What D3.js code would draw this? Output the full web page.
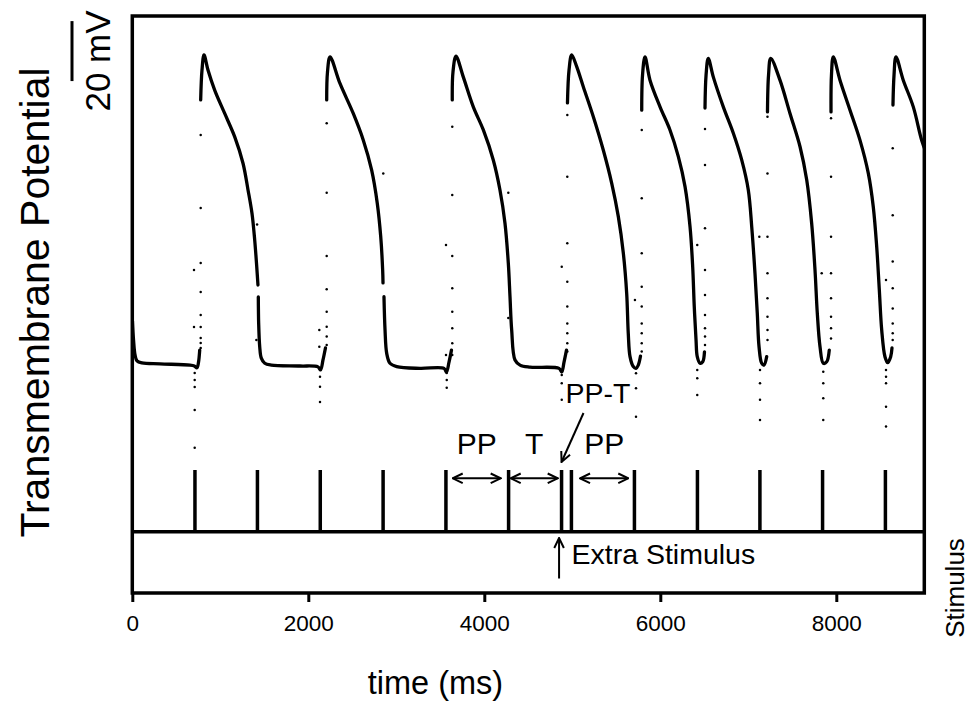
<!DOCTYPE html>
<html>
<head>
<meta charset="utf-8">
<script src="https://cdn.jsdelivr.net/npm/d3@7"></script>
<style>
  html, body { margin: 0; padding: 0; background: #fff; }
  svg { display: block; }
  text { font-family: "Liberation Sans", Arial, Helvetica, sans-serif; fill: #000; }
</style>
</head>
<body>
<svg id="chart" width="970" height="706"></svg>
<script>
// ---- data -------------------------------------------------------------
const timeTicks = [0, 2000, 4000, 6000, 8000];

// pacing stimuli (ms); one premature extra stimulus between two regular ones
const stimTimes = [712, 1422, 2136, 2850, 3564, 4276, 4878, 4990, 5706, 6422, 7132, 7844, 8558];
const extraStimTime = 4878;

// membrane potential trace, [time ms, mV]; null = break in the recorded line
const traceSegments = [
  [[2, -70], [14, -76.3], [31, -81.3], [53, -83.3], [110, -84], [315, -84.3], [656, -84.7],
   [705, -85], [735, -85.6], [752, -83.8], [766, -79.7]],
  [[777, 3.7], [792, 13.7], [815, 18.7], [860, 13.7], [936, 7], [1050, -0.8], [1164, -8.6],
   [1258, -17.4], [1315, -26.3], [1360, -34.1], [1391, -43], [1414, -51.9], [1428, -58], null,
   [1432, -62], [1436, -70.8], [1448, -78.6], [1466, -82.4], [1505, -84.1], [1580, -84.7],
   [1906, -85], [2110, -85.3], [2139, -86.3], [2167, -83], [2195, -79]],
  [[2209, 3.7], [2218, 13], [2247, 18.1], [2360, 9.2], [2511, -0.8], [2625, -9.7], [2720, -19.7],
   [2784, -30.8], [2823, -41.9], [2845, -53], [2849, -57.3], null,
   [2860, -61.9], [2872, -73], [2891, -80.8], [2928, -84.1], [3005, -85.2], [3269, -85.8],
   [3542, -85.8], [3570, -87], [3599, -83.7], [3627, -79.7]],
  [[3636, 3.7], [3644, 13], [3678, 18.3], [3761, 11.4], [3875, 1.4], [3989, -6.3], [4102, -16.3],
   [4178, -26.3], [4235, -37.4], [4273, -50.8], [4292, -61.9], [4311, -73], [4349, -83],
   [4406, -84.7], [4519, -85.4], [4849, -85.8], [4880, -87], [4906, -83.7], [4934, -79.7]],
  [[4945, 2.7], [4963, 13.7], [4993, 18.7], [5050, 14.8], [5125, 8.1], [5239, -1.9], [5352, -13],
   [5448, -24.1], [5523, -35.2], [5580, -47.4], [5618, -60.8], [5636, -74.1], [5656, -81.9],
   [5693, -85.2], [5724, -85.8], [5750, -84.7], [5775, -81.7]],
  [[5789, 0.3], [5798, 12], [5826, 18.1], [5883, 10.3], [5997, 1.4], [6110, -6.3], [6205, -15.2],
   [6281, -25.2], [6338, -38.6], [6368, -51.9], [6386, -65.2], [6406, -76.3], [6420, -81.9],
   [6451, -84.1], [6482, -83.6], [6502, -80.3]],
  [[6508, 1], [6520, 12], [6545, 17.6], [6602, 11.4], [6716, 1.4], [6830, -7.4], [6925, -16.3],
   [7000, -26.3], [7039, -38.6], [7076, -54.1], [7102, -67.4], [7122, -78.6], [7152, -84.1],
   [7178, -84.7], [7209, -81.9]],
  [[7218, -0.3], [7230, 12], [7255, 17.6], [7360, 10.3], [7474, -0.8], [7588, -11.9], [7664, -23],
   [7720, -37.4], [7758, -53], [7784, -67.4], [7815, -78.6], [7852, -84.1], [7891, -83.6],
   [7920, -79.7]],
  [[7940, -0.3], [7945, 12], [7966, 18.1], [8042, 10.3], [8156, 0.3], [8269, -9.7], [8364, -20.8],
   [8420, -31.9], [8459, -45.2], [8489, -59.7], [8516, -73], [8553, -81.9], [8584, -83.9],
   [8618, -81.9], [8633, -79]],
  [[8644, 2], [8656, 12], [8678, 18.1], [8761, 10.3], [8875, 1.4], [8970, -9.7], [9019, -13.7]]
];

// sparse samples caught on the fast upstrokes, [time ms, mV]
const upstrokeDots = [
  [777, -8], [777, -32.3], [777, -50.7], [777, -60.3], [777, -68], [777, -72], [777, -75.7], [777, -77.3], [777, -79],
  [2209, -4.1], [2209, -27.2], [2209, -48.3], [2209, -59.4], [2209, -66.9], [2209, -71.9], [2209, -75.2], [2209, -78],
  [3636, -5.2], [3636, -28], [3636, -48.3], [3636, -59.1], [3636, -66.9], [3636, -72.4], [3636, -77.4], [3636, -81.3],
  [4943, -1.3], [4943, -21.9], [4943, -44.1], [4943, -56.9], [4943, -65.2], [4943, -70.8], [4943, -74.1], [4943, -77.4], [4943, -80.2],
  [5789, -6.3], [5789, -29.1], [5789, -47.4], [5789, -58.6], [5789, -65.2], [5789, -70.8], [5789, -74.1], [5789, -77.4], [5789, -80.2],
  [6508, -6], [6508, -18], [6508, -39.1], [6508, -53], [6508, -61.3], [6508, -68], [6508, -72.4], [6508, -75.2], [6508, -78],
  [7218, -1.9], [7218, -20.8], [7218, -41.9], [7218, -54.1], [7218, -62.4], [7218, -68.6], [7218, -73], [7218, -76.3],
  [7940, -2.4], [7940, -21.9], [7940, -41.9], [7940, -54.1], [7940, -62.4], [7940, -68.6], [7940, -72.4], [7940, -75.8],
  [8641, -12.4], [8641, -34.7], [8641, -50.2], [8641, -59.1], [8641, -65.8], [8641, -70.8], [8641, -74.1], [8641, -76.3]
];

// stimulus artefact samples, [time ms, mV]
const artifactDots = [
  [709, -87.3], [709, -89.7], [709, -92], [709, -99.7], [709, -112.3], [701, -53], [701, -72],
  [1418, -37.8], [1410, -76.3],
  [2133, -88.6], [2133, -91.9], [2133, -97], [2125, -73], [2125, -78.6], [2852, -20.8],
  [3573, -87.3], [3573, -89.7], [3573, -92.3], [3565, -44.7], [3565, -81.3], [4273, -27.2], [4273, -69],
  [4880, -88], [4880, -90.8], [4880, -96.3], [4880, -51.9],
  [5724, -87.4], [5724, -92.4], [5724, -101.9], [5712, -63],
  [6420, -86.3], [6420, -89.1], [6420, -94.7], [6420, -44.7],
  [7133, -86.3], [7133, -90.8], [7133, -96.3], [7133, -103], [7125, -41.9],
  [7852, -86.9], [7852, -90.8], [7852, -95.8], [7852, -103], [7834, -54.1],
  [8565, -86.3], [8565, -88.6], [8565, -90.8], [8565, -98.6], [8565, -105.2], [8565, -56.3]
];

const scaleBarMv = [10, 30];               // 20 mV calibration bar
const intervalSpans = [[3641, 4186], [4300, 4834], [5088, 5636]];
const intervalLabels = ["PP", "T", "PP"];

// ---- layout -----------------------------------------------------------
const plot = { left: 132.3, right: 924.3, top: 16, bottom: 593 };
const svg = d3.select("#chart");
svg.append("rect").attr("width", 970).attr("height", 706).attr("fill", "#fff");

const x = d3.scaleLinear().domain([0, 9000]).range([plot.left, plot.right]);
const y = d3.scaleLinear().domain([-160.7, 31.7]).range([plot.bottom, plot.top]);
const ys = d3.scaleLinear().domain([0, 1]).range([531.7, 470]);

const defs = svg.append("defs");
defs.append("clipPath").attr("id", "plotClip")
  .append("rect")
  .attr("x", plot.left).attr("y", plot.top)
  .attr("width", plot.right - plot.left).attr("height", plot.bottom - plot.top);

defs.append("marker")
  .attr("id", "vhead")
  .attr("viewBox", "-1 -6 12 12")
  .attr("refX", 10).attr("refY", 0)
  .attr("markerUnits", "userSpaceOnUse")
  .attr("markerWidth", 12).attr("markerHeight", 12)
  .attr("orient", "auto-start-reverse")
  .append("path")
  .attr("d", "M0,-4.8L10,0L0,4.8")
  .attr("fill", "none").attr("stroke", "#000").attr("stroke-width", 2)
  .attr("stroke-linejoin", "miter");

const g = svg.append("g").attr("clip-path", "url(#plotClip)");

// membrane potential
const line = d3.line()
  .defined(d => d !== null)
  .x(d => x(d[0])).y(d => y(d[1]))
  .curve(d3.curveCatmullRom.alpha(0.5));

g.selectAll("path.trace")
  .data(traceSegments)
  .join("path")
  .attr("class", "trace")
  .attr("d", line)
  .attr("fill", "none")
  .attr("stroke", "#000")
  .attr("stroke-width", 3.3)
  .attr("stroke-linejoin", "round")
  .attr("stroke-linecap", "round");

g.selectAll("circle.dot")
  .data(upstrokeDots.concat(artifactDots))
  .join("circle")
  .attr("class", "dot")
  .attr("cx", d => x(d[0])).attr("cy", d => y(d[1]))
  .attr("r", 1.25).attr("fill", "#000");

// stimulus channel
const stimPath = [[0, 0]];
stimTimes.forEach(t => { stimPath.push([t, 0], [t, 1], [t, 0]); });
stimPath.push([9000, 0]);
g.append("path")
  .attr("d", d3.line().x(d => x(d[0])).y(d => ys(d[1]))(stimPath))
  .attr("fill", "none").attr("stroke", "#000").attr("stroke-width", 3.5)
  .attr("stroke-linejoin", "miter").attr("stroke-linecap", "round");

// frame
svg.append("rect")
  .attr("x", plot.left).attr("y", plot.top)
  .attr("width", plot.right - plot.left).attr("height", plot.bottom - plot.top)
  .attr("fill", "none").attr("stroke", "#000").attr("stroke-width", 3.5);

// time axis
const xAxis = svg.append("g")
  .attr("transform", `translate(0,${plot.bottom})`)
  .call(d3.axisBottom(x).tickValues(timeTicks).tickFormat(d3.format("d"))
    .tickSize(9).tickSizeOuter(0).tickPadding(13));
xAxis.select(".domain").remove();
xAxis.selectAll(".tick line").attr("stroke", "#000").attr("stroke-width", 3);
xAxis.selectAll(".tick text")
  .style("font-family", "'Liberation Sans', Arial, sans-serif")
  .style("font-size", "22.5px").attr("fill", "#000");

svg.append("text")
  .attr("x", 435.5).attr("y", 694)
  .attr("text-anchor", "middle")
  .style("font-size", "32.5px")
  .text("time (ms)");

svg.append("text")
  .attr("transform", "translate(49,302.5) rotate(-90)")
  .attr("text-anchor", "middle")
  .style("font-size", "41px")
  .text("Transmembrane Potential");

svg.append("text")
  .attr("transform", "translate(963.5,588) rotate(-90)")
  .attr("text-anchor", "middle")
  .style("font-size", "26px")
  .text("Stimulus");

// calibration bar
svg.append("line")
  .attr("x1", 72).attr("x2", 72)
  .attr("y1", y(scaleBarMv[0])).attr("y2", y(scaleBarMv[1]))
  .attr("stroke", "#000").attr("stroke-width", 3);
svg.append("text")
  .attr("transform", "translate(110,61) rotate(-90)")
  .attr("text-anchor", "middle")
  .style("font-size", "35px")
  .text(`${scaleBarMv[1] - scaleBarMv[0]} mV`);

// interval annotations
const arrowY = 478.3;
intervalSpans.forEach((s, i) => {
  svg.append("line")
    .attr("x1", x(s[0])).attr("x2", x(s[1]))
    .attr("y1", arrowY).attr("y2", arrowY)
    .attr("stroke", "#000").attr("stroke-width", 2)
    .attr("marker-start", "url(#vhead)").attr("marker-end", "url(#vhead)");
  svg.append("text")
    .attr("x", (x(s[0]) + x(s[1])) / 2).attr("y", 454)
    .attr("text-anchor", "middle")
    .style("font-size", "30px")
    .text(intervalLabels[i]);
});

// PP-T label pointing at the premature stimulus
svg.append("text")
  .attr("x", 598).attr("y", 403)
  .attr("text-anchor", "middle")
  .style("font-size", "28.5px")
  .text("PP-T");
svg.append("line")
  .attr("x1", 583.5).attr("y1", 413)
  .attr("x2", x(extraStimTime)).attr("y2", 462)
  .attr("stroke", "#000").attr("stroke-width", 2)
  .attr("marker-end", "url(#vhead)");

// extra stimulus marker
svg.append("line")
  .attr("x1", x(extraStimTime) - 2.5).attr("x2", x(extraStimTime) - 2.5)
  .attr("y1", 578.5).attr("y2", 538)
  .attr("stroke", "#000").attr("stroke-width", 2)
  .attr("marker-end", "url(#vhead)");
svg.append("text")
  .attr("x", 571.5).attr("y", 563.5)
  .attr("text-anchor", "start")
  .style("font-size", "28.5px")
  .text("Extra Stimulus");
</script>
</body>
</html>
